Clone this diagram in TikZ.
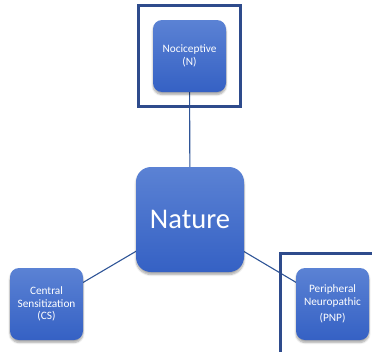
\documentclass[tikz,border=0pt]{standalone}
\usepackage{fontspec}
\setmainfont{Carlito}
\usetikzlibrary{shadows.blur,fit}
\definecolor{boxtop}{HTML}{5B82D4}
\definecolor{boxbot}{HTML}{3561C4}
\definecolor{linkcol}{HTML}{2F5597}
\definecolor{framecol}{HTML}{2E4B8C}
\tikzset{
  boxbase/.style={rounded corners=9pt, top color=boxtop, bottom color=boxbot,
    draw=none, text=white, align=center, inner sep=0pt,
    blur shadow={shadow xshift=0pt, shadow yshift=-2.5pt, shadow blur steps=6, shadow opacity=35}},
  smallbox/.style={boxbase, minimum width=73pt, minimum height=72pt, font=\fontsize{11.3}{12.8}\selectfont},
  bigbox/.style={boxbase, rounded corners=15pt, minimum width=108pt, minimum height=105pt, font=\fontsize{28.5}{31}\selectfont},
  link/.style={draw=linkcol, line width=1.1pt},
  framebox/.style={draw=framecol, line width=3pt}
}
\begin{document}
\begin{tikzpicture}[x=1pt,y=-1pt]
\useasboundingbox (0,0) rectangle (372,351);
% connectors first, so the boxes sit on top
\coordinate (cN) at (189.5,56);
\coordinate (cNat) at (190,219.5);
\coordinate (cCS) at (46.5,304);
\coordinate (cPNP) at (332.5,304);
\draw[link] (cN) -- (cNat);
\draw[link] (cCS) -- (cNat);
\draw[link] (cPNP) -- (cNat);
% boxes
\node[smallbox] (N) at (cN) {Nociceptive\\(N)};
\node[bigbox] (nat) at (cNat) {Nature};
\node[smallbox] (cs) at (cCS) {Central\\Sensitization\\(CS)};
\node[smallbox] (pnp) at (cPNP) {Peripheral\\Neuropathic\\[4pt](PNP)};
% highlight frames
\node[framebox, fit=(N), inner sep=14.5pt] (frameN) {};
\coordinate (fA) at (373,253.5);
\coordinate (fB) at (280.5,253.5);
\coordinate (fC) at (280.5,353);
\draw[framebox] (fA) -- (fB) -- (fC);
\end{tikzpicture}
\end{document}
